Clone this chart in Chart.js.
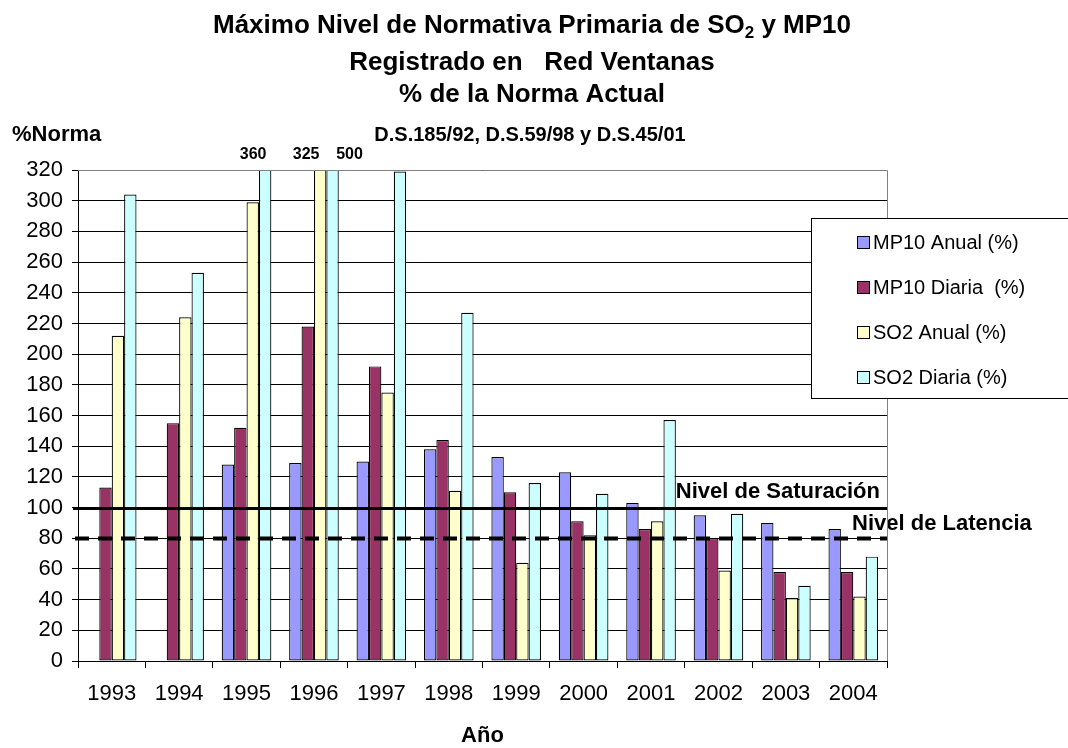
<!DOCTYPE html>
<html>
<head>
<meta charset="utf-8">
<script src="https://cdn.jsdelivr.net/npm/chart.js@4.4.1/dist/chart.umd.min.js"></script>
<style>
  html, body { margin: 0; padding: 0; background: #fff; }
  #wrap { width: 1068px; height: 748px; position: relative; }
</style>
</head>
<body>
<div id="wrap"><canvas id="c"></canvas></div>
<script>
// ---- Data ----
const years = ['1993','1994','1995','1996','1997','1998','1999','2000','2001','2002','2003','2004'];
const mp10Anual  = [null, null, 128, 129, 130, 138, 133, 123, 103, 95, 90, 86];
const mp10Diaria = [113, 155, 152, 218, 192, 144, 110, 91, 86, 80, 58, 58];
const so2Anual   = [212, 224, 299, 325, 175, 111, 64, 82, 91, 59, 41, 42];
const so2Diaria  = [304, 253, 360, 500, 319, 227, 116, 109, 157, 96, 49, 68];
const seriesNames = ['MP10 Anual (%)', 'MP10 Diaria  (%)', 'SO2 Anual (%)', 'SO2 Diaria (%)'];
const yTicks = { min: 0, max: 320, step: 20 };
const refLevels = [100, 80];
const refNames = ['Nivel de Saturación', 'Nivel de Latencia'];
const titleLines = ['Máximo Nivel de Normativa Primaria de SO|2| y MP10', 'Registrado en   Red Ventanas', '% de la Norma Actual'];
const subTitle = 'D.S.185/92, D.S.59/98 y D.S.45/01';
const yAxisTitle = '%Norma';
const xAxisTitle = 'Año';

const FONT = "'Liberation Sans', Arial, Helvetica, sans-serif";
Chart.defaults.font.family = FONT;
Chart.defaults.color = '#000';

const colors = ['#9999FF', '#993366', '#FFFFCC', '#CCFFFF'];
const seriesData = [mp10Anual, mp10Diaria, so2Anual, so2Diaria];

const datasets = seriesData.map((d, i) => ({
  label: seriesNames[i],
  data: d,
  backgroundColor: colors[i],
  borderColor: '#000',
  borderWidth: 1.2,
  borderSkipped: false,
  categoryPercentage: 0.736,
  barPercentage: 1.0,
  clip: 0
}));

const decorPlugin = {
  id: 'decor',
  afterDatasetsDraw(chart) {
    const ctx = chart.ctx;
    const ca = chart.chartArea;
    const y = chart.scales.y;
    ctx.save();
    // Solid saturation line
    const ySat = Math.round(y.getPixelForValue(refLevels[0])) + 0.5;
    ctx.strokeStyle = '#000';
    ctx.lineWidth = 3;
    ctx.setLineDash([]);
    ctx.beginPath();
    ctx.moveTo(ca.left - 5, ySat);
    ctx.lineTo(ca.right, ySat);
    ctx.stroke();
    // Dashed latency line
    const yLat = Math.round(y.getPixelForValue(refLevels[1])) + 0.5;
    ctx.lineWidth = 4;
    ctx.setLineDash([14, 9]);
    ctx.beginPath();
    ctx.moveTo(ca.left - 3, yLat);
    ctx.lineTo(ca.right, yLat);
    ctx.stroke();
    ctx.setLineDash([]);
    // Ref labels
    ctx.fillStyle = '#000';
    ctx.font = 'bold 22px ' + FONT;
    ctx.textBaseline = 'alphabetic';
    ctx.textAlign = 'right';
    ctx.fillText(refNames[0], ca.right - 7, ySat - 11);
    ctx.textAlign = 'left';
    ctx.fillText(refNames[1], ca.right - 35, yLat - 9);
    ctx.restore();
  },
  afterDraw(chart) {
    const ctx = chart.ctx;
    const ca = chart.chartArea;
    ctx.save();
    // plot border top/right gray
    ctx.strokeStyle = '#808080';
    ctx.lineWidth = 1;
    ctx.beginPath();
    ctx.moveTo(ca.left, Math.round(ca.top) + 0.5);
    ctx.lineTo(Math.round(ca.right) + 0.5, Math.round(ca.top) + 0.5);
    ctx.lineTo(Math.round(ca.right) + 0.5, ca.bottom);
    ctx.stroke();

    // Title
    ctx.fillStyle = '#000';
    ctx.textBaseline = 'alphabetic';
    const cx = 532;
    const baselines = [33, 70, 102];
    const big = 'bold 26px ' + FONT;
    const small = 'bold 17px ' + FONT;
    titleLines.forEach((line, i) => {
      const parts = line.split('|');
      let widths = parts.map((p, k) => { ctx.font = (k % 2 === 1) ? small : big; return ctx.measureText(p).width; });
      const total = widths.reduce((a, b) => a + b, 0);
      let x = cx - total / 2;
      parts.forEach((p, k) => {
        const sub = k % 2 === 1;
        ctx.font = sub ? small : big;
        ctx.textAlign = 'left';
        ctx.fillText(p, x, baselines[i] + (sub ? 5 : 0));
        x += widths[k];
      });
    });
    // subtitle
    ctx.font = 'bold 20px ' + FONT;
    ctx.textAlign = 'center';
    ctx.fillText(subTitle, 530, 141);
    // y-axis title
    ctx.font = 'bold 22px ' + FONT;
    ctx.textAlign = 'left';
    ctx.fillText(yAxisTitle, 12, 141);

    // Value labels for bars exceeding the axis
    ctx.font = 'bold 16px ' + FONT;
    ctx.textAlign = 'center';
    ctx.textBaseline = 'middle';
    chart.data.datasets.forEach((ds, di) => {
      const meta = chart.getDatasetMeta(di);
      ds.data.forEach((v, idx) => {
        if (v != null && v > yTicks.max) {
          const bar = meta.data[idx];
          const off = (di === 3 && idx === 2) ? -12 : (di === 2 ? -14 : 17);
          ctx.fillText(String(v), bar.x + off, ca.top - 15);
        }
      });
    });

    // Legend
    const lx = 811, ly = 218, lw = 280, lh = 180;
    ctx.fillStyle = '#fff';
    ctx.fillRect(lx, ly, lw, lh);
    ctx.strokeStyle = '#000';
    ctx.lineWidth = 1;
    ctx.strokeRect(lx + 0.5, ly + 0.5, lw, lh);
    ctx.font = '20px ' + FONT;
    ctx.textAlign = 'left';
    ctx.textBaseline = 'middle';
    chart.data.datasets.forEach((ds, i) => {
      const ry = 242 + i * 45;
      ctx.fillStyle = ds.backgroundColor;
      ctx.fillRect(857, ry - 6, 13, 13);
      ctx.strokeStyle = '#000';
      ctx.strokeRect(857.5, ry - 5.5, 12, 12);
      ctx.fillStyle = '#000';
      ctx.fillText(ds.label, 873, ry + 1);
    });
    ctx.restore();
  }
};

new Chart(document.getElementById('c'), {
  type: 'bar',
  data: { labels: years, datasets },
  options: {
    responsive: true,
    maintainAspectRatio: false,
    animation: false,
    devicePixelRatio: 1,
    layout: { padding: { left: 0, right: 181, top: 170, bottom: 0 } },
    plugins: {
      legend: { display: false },
      title: { display: false },
      tooltip: { enabled: false }
    },
    scales: {
      x: {
        ticks: { color: '#000', font: { size: 22 }, padding: 13, maxRotation: 0, autoSkip: false },
        grid: { display: true, drawOnChartArea: false, drawTicks: true, tickLength: 7, color: '#000', offset: true },
        border: { color: '#000', width: 1 },
        title: { display: true, text: xAxisTitle, color: '#000', font: { size: 22, weight: 'bold', lineHeight: 1.1 }, padding: 0 },
        afterFit(s) { s.height = 87; }
      },
      y: {
        min: yTicks.min,
        max: yTicks.max,
        ticks: { stepSize: yTicks.step, color: '#000', font: { size: 22 }, padding: 9 },
        grid: { color: '#000', lineWidth: 1, tickLength: 6, drawTicks: true },
        border: { color: '#000', width: 1 },
        afterFit(s) { s.width = 78; }
      }
    }
  },
  plugins: [decorPlugin]
});
</script>
</body>
</html>
